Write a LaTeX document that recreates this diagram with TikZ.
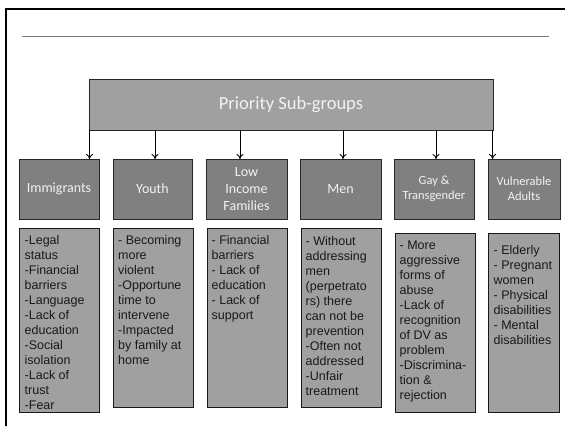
\documentclass[tikz,border=0pt]{standalone}
\usepackage{fontspec}
\setmainfont{Liberation Sans}
\newfontfamily\carl{Carlito}
\usetikzlibrary{arrows.meta}
\definecolor{boxlight}{HTML}{A0A0A0}
\definecolor{boxdark}{HTML}{808080}
\definecolor{ruleg}{HTML}{7F7F7F}
\definecolor{wtext}{HTML}{F2F2F2}
\tikzset{
  rootbox/.style={draw=black!85, line width=0.9pt, fill=boxlight, anchor=north west, inner sep=0, outer sep=0,
    text=wtext, font={\carl\fontsize{18.5}{22}\selectfont}},
  headbox/.style={draw=black!85, line width=0.9pt, fill=boxdark, anchor=north west, inner sep=0, outer sep=0,
    text=wtext, align=center, font={\carl\fontsize{14}{17}\selectfont}},
  headsmall/.style={headbox, font={\carl\fontsize{12.5}{15}\selectfont}},
  detbox/.style={draw=black!90, line width=0.9pt, fill=boxlight, anchor=north west, inner sep=0, outer sep=0},
  dettext/.style={anchor=north west, inner sep=0, align=left, text=black!90,
    font={\fontsize{12.5}{15}\selectfont}},
  arr/.style={draw=black, line width=0.9pt, -{To[length=5pt,width=7pt]}},
}
\begin{document}
\begin{tikzpicture}[x=1pt,y=-1pt]
\useasboundingbox (0,0) rectangle (565,426);
% slide frame and rule
\draw[line width=2pt] (5.5,426) -- (5.5,8.8) -- (565,8.8);
\draw[ruleg, line width=1.3pt] (22,36.6) -- (549,36.6);
% root
\node[rootbox, minimum width=404pt, minimum height=51pt] (root) at (89,79) {Priority Sub-groups};
% headers
\node[headbox, minimum width=80pt, minimum height=60pt] (himm) at (19,159) {Immigrants};
\node[headbox, minimum width=79pt, minimum height=60pt] (hyou) at (113,159) {Youth};
\node[headbox, minimum width=81pt, minimum height=60pt] (hlow) at (206,159) {Low\\Income\\Families};
\node[headbox, minimum width=81pt, minimum height=60pt] (hmen) at (300,159) {Men};
\node[headsmall, minimum width=80pt, minimum height=60pt] (hgay) at (394,159) {Gay \&\\Transgender};
\node[headsmall, minimum width=72pt, minimum height=60pt] (hvul) at (488,159) {Vulnerable\\Adults};
% connectors
\coordinate (c1) at (89.5,0);
\coordinate (c2) at (155,0);
\coordinate (c3) at (240,0);
\coordinate (c4) at (343,0);
\coordinate (c5) at (436,0);
\coordinate (c6) at (492.5,0);
\draw[arr] (root.south -| c1) -- (himm.north -| c1);
\draw[arr] (root.south -| c2) -- (hyou.north -| c2);
\draw[arr] (root.south -| c3) -- (hlow.north -| c3);
\draw[arr] (root.south -| c4) -- (hmen.north -| c4);
\draw[arr] (root.south -| c5) -- (hgay.north -| c5);
\draw[arr] (root.south -| c6) -- (hvul.north -| c6);
% detail boxes
\node[detbox, minimum width=80pt, minimum height=184pt] (dimm) at (19,228) {};
\node[detbox, minimum width=80pt, minimum height=179pt] (dyou) at (113,228) {};
\node[detbox, minimum width=80pt, minimum height=179pt] (dlow) at (207,228) {};
\node[detbox, minimum width=80pt, minimum height=179pt] (dmen) at (301,228) {};
\node[detbox, minimum width=80pt, minimum height=179pt] (dgay) at (395,233) {};
\node[detbox, minimum width=71pt, minimum height=179pt] (dvul) at (488,233) {};
% detail texts
\node[dettext] (timm) at ([xshift=5.5pt,yshift=-7pt]dimm.north west)
  {-Legal\\status\\-Financial\\barriers\\-Language\\-Lack of\\education\\-Social\\isolation\\-Lack of\\trust\\-Fear};
\node[dettext] (tyou) at ([xshift=5pt,yshift=-7pt]dyou.north west)
  {- Becoming\\more\\violent\\-Opportune\\time to\\intervene\\-Impacted\\by family at\\home};
\node[dettext] (tlow) at ([xshift=4.5pt,yshift=-7pt]dlow.north west)
  {- Financial\\barriers\\- Lack of\\education\\- Lack of\\support};
\node[dettext] (tmen) at ([xshift=4.5pt,yshift=-8pt]dmen.north west)
  {- Without\\addressing\\men\\(perpetrato\\rs) there\\can not be\\prevention\\-Often not\\addressed\\-Unfair\\treatment};
\node[dettext] (tgay) at ([xshift=4.5pt,yshift=-7.5pt]dgay.north west)
  {- More\\aggressive\\forms of\\abuse\\-Lack of\\recognition\\of DV as\\problem\\-Discrimina-\\tion \&\\rejection};
\node[dettext] (tvul) at ([xshift=5.5pt,yshift=-12.5pt]dvul.north west)
  {- Elderly\\- Pregnant\\women\\- Physical\\disabilities\\- Mental\\disabilities};
\end{tikzpicture}
\end{document}
